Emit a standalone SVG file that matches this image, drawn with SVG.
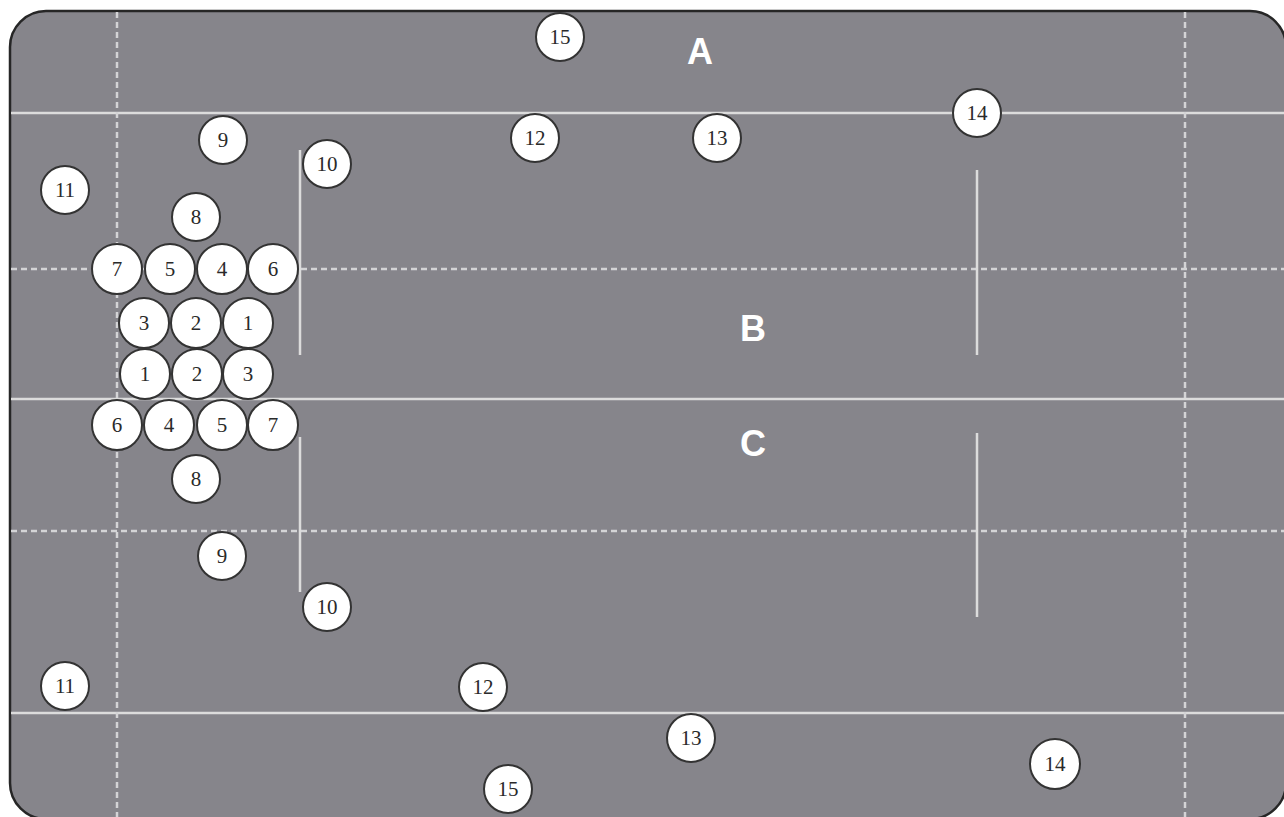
<svg xmlns="http://www.w3.org/2000/svg" width="1284" height="817" viewBox="0 0 1284 817">
<style>
.field{fill:#86858b;stroke:#262626;stroke-width:2.5}
.solid{stroke:#dcdcdc;stroke-width:2.5;fill:none}
.dash{stroke:#d4d4d6;stroke-width:2.5;stroke-dasharray:6 4;fill:none}
.ball circle{fill:#ffffff;stroke:#333333;stroke-width:2}
.ball text{font-family:"Liberation Serif",serif;font-size:21px;fill:#2a2a2a;text-anchor:middle}
.zone{font-family:"Liberation Sans",Arial,sans-serif;font-weight:bold;font-size:36px;fill:#ffffff;text-anchor:middle}
</style>
<rect width="1284" height="817" fill="#ffffff"/>
<rect class="field" x="10" y="11" width="1276" height="808" rx="36" ry="36"/>
<g id="lines">
<line class="solid" x1="11" y1="113" x2="1284" y2="113"/>
<line class="solid" x1="11" y1="399" x2="1284" y2="399"/>
<line class="solid" x1="11" y1="713" x2="1284" y2="713"/>
<line class="dash" x1="11" y1="269" x2="1284" y2="269"/>
<line class="dash" x1="11" y1="531" x2="1284" y2="531"/>
<line class="dash" x1="117" y1="12" x2="117" y2="817"/>
<line class="dash" x1="1185" y1="12" x2="1185" y2="817"/>
<line class="solid" x1="300" y1="150" x2="300" y2="355"/>
<line class="solid" x1="300" y1="437" x2="300" y2="592"/>
<line class="solid" x1="977" y1="170" x2="977" y2="355"/>
<line class="solid" x1="977" y1="433" x2="977" y2="617"/>
</g>
<text class="zone" x="700" y="64">A</text>
<text class="zone" x="753" y="341">B</text>
<text class="zone" x="753" y="456">C</text>
<g id="b-t15" class="ball"><circle cx="560" cy="37" r="24"/><text x="560" y="44">15</text></g>
<g id="b-t14" class="ball"><circle cx="977" cy="113" r="24"/><text x="977" y="120">14</text></g>
<g id="b-t12" class="ball"><circle cx="535" cy="138" r="24"/><text x="535" y="145">12</text></g>
<g id="b-t13" class="ball"><circle cx="717" cy="138" r="24"/><text x="717" y="145">13</text></g>
<g id="b-t9" class="ball"><circle cx="223" cy="140" r="24"/><text x="223" y="147">9</text></g>
<g id="b-t10" class="ball"><circle cx="327" cy="164" r="24"/><text x="327" y="171">10</text></g>
<g id="b-t11" class="ball"><circle cx="65" cy="190" r="24"/><text x="65" y="197">11</text></g>
<g id="b-t8" class="ball"><circle cx="196" cy="217" r="24"/><text x="196" y="224">8</text></g>
<g id="b-t7" class="ball"><circle cx="117" cy="269" r="25"/><text x="117" y="276">7</text></g>
<g id="b-t5" class="ball"><circle cx="170" cy="269" r="25"/><text x="170" y="276">5</text></g>
<g id="b-t4" class="ball"><circle cx="222" cy="269" r="25"/><text x="222" y="276">4</text></g>
<g id="b-t6" class="ball"><circle cx="273" cy="269" r="25"/><text x="273" y="276">6</text></g>
<g id="b-t3" class="ball"><circle cx="144" cy="323" r="25"/><text x="144" y="330">3</text></g>
<g id="b-t2" class="ball"><circle cx="196" cy="323" r="25"/><text x="196" y="330">2</text></g>
<g id="b-t1" class="ball"><circle cx="248" cy="323" r="25"/><text x="248" y="330">1</text></g>
<g id="b-b1" class="ball"><circle cx="145" cy="374" r="25"/><text x="145" y="381">1</text></g>
<g id="b-b2" class="ball"><circle cx="197" cy="374" r="25"/><text x="197" y="381">2</text></g>
<g id="b-b3" class="ball"><circle cx="248" cy="374" r="25"/><text x="248" y="381">3</text></g>
<g id="b-b6" class="ball"><circle cx="117" cy="425" r="25"/><text x="117" y="432">6</text></g>
<g id="b-b4" class="ball"><circle cx="169" cy="425" r="25"/><text x="169" y="432">4</text></g>
<g id="b-b5" class="ball"><circle cx="222" cy="425" r="25"/><text x="222" y="432">5</text></g>
<g id="b-b7" class="ball"><circle cx="273" cy="425" r="25"/><text x="273" y="432">7</text></g>
<g id="b-b8" class="ball"><circle cx="196" cy="479" r="24"/><text x="196" y="486">8</text></g>
<g id="b-b9" class="ball"><circle cx="222" cy="556" r="24"/><text x="222" y="563">9</text></g>
<g id="b-b10" class="ball"><circle cx="327" cy="607" r="24"/><text x="327" y="614">10</text></g>
<g id="b-b11" class="ball"><circle cx="65" cy="686" r="24"/><text x="65" y="693">11</text></g>
<g id="b-b12" class="ball"><circle cx="483" cy="687" r="24"/><text x="483" y="694">12</text></g>
<g id="b-b13" class="ball"><circle cx="691" cy="738" r="24"/><text x="691" y="745">13</text></g>
<g id="b-b15" class="ball"><circle cx="508" cy="789" r="24"/><text x="508" y="796">15</text></g>
<g id="b-b14" class="ball"><circle cx="1055" cy="764" r="25"/><text x="1055" y="771">14</text></g>
</svg>
